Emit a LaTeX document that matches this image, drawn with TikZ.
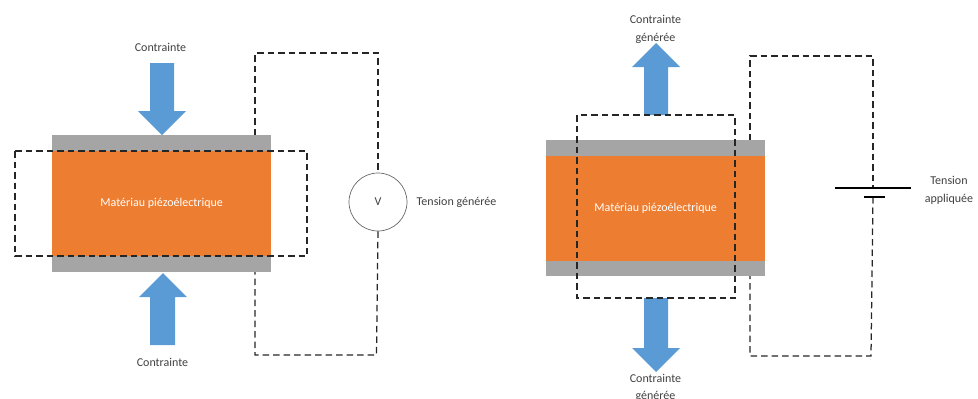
\documentclass[tikz,border=0pt]{standalone}
\usepackage{fontspec}
\setmainfont{Carlito}
\definecolor{plate}{HTML}{A5A5A5}
\definecolor{piezo}{HTML}{ED7D31}
\definecolor{force}{HTML}{5B9BD5}
\definecolor{label}{HTML}{404040}
\tikzset{
  platebox/.style={fill=plate,draw=none,inner sep=0pt,minimum width=219pt,anchor=north west},
  piezobox/.style={fill=piezo,draw=none,inner sep=0pt,minimum width=219pt,minimum height=105pt,anchor=north west,text=white,font=\fontsize{12}{14}\selectfont},
  lab/.style={text=label,inner sep=0pt,align=center,font=\fontsize{12}{17.5}\selectfont},
  wire/.style={draw=black!85,line width=1.25pt,dash pattern=on 6.5pt off 4pt,line join=miter},
  blockarrow/.style={fill=force,draw=none}
}
\begin{document}
\begin{tikzpicture}[x=1pt,y=-1pt]
\useasboundingbox (0,0) rectangle (978,399);
\clip (0,0) rectangle (978,399);
% left device
\node[platebox,minimum height=137pt] (lplate) at (52,135) {};
\node[piezobox] (lpiezo) at (52,151) {Matériau piézoélectrique};
\fill[blockarrow] (150,63) -- (174,63) -- (174,111) -- (186,111) -- (162,135) -- (138,111) -- (150,111) -- cycle;
\fill[blockarrow] (150,345) -- (175,345) -- (175,297) -- (187,297) -- (163,273) -- (139,297) -- (150,297) -- cycle;
\node[lab] (lc1) at (160.5,47) {Contrainte};
\node[lab] (lc2) at (162.5,362.5) {Contrainte};
\node[circle,draw=black!60,line width=0.7pt,fill=white,minimum size=58pt,inner sep=0pt,text=label,font=\fontsize{12}{14}\selectfont] (volt) at (378,202) {V};
\node[lab,anchor=west] (lv) at (416.5,202) {Tension générée};
\coordinate (lt) at (255,135);
\coordinate (lb) at (255,272);
\draw[wire] (lt) -- (255,53) -- (378,53) -- (volt.north);
\draw[wire] (volt.south) -- (376.5,355) -- (255,355) -- (lb);
\draw[wire] (15,151) rectangle (307,256);
% right device
\node[platebox,minimum height=136pt] (rplate) at (546,140) {};
\node[piezobox] (rpiezo) at (546,155.5) {Matériau piézoélectrique};
\fill[blockarrow] (644,115) -- (668,115) -- (668,67) -- (680,67) -- (656,43) -- (632,67) -- (644,67) -- cycle;
\fill[blockarrow] (644,298) -- (668,298) -- (668,348) -- (680,348) -- (656,372) -- (632,348) -- (644,348) -- cycle;
\node[lab] (rc1) at (655.5,29.5) {Contrainte\\générée};
\node[lab] (rc2) at (655.5,388) {Contrainte\\générée};
\node[lab] (rv) at (949,190.5) {Tension\\appliquée};
\draw[wire] (577,115) rectangle (735,298);
\coordinate (rt) at (750,140);
\coordinate (rb) at (750,276);
\coordinate (batp) at (873,188);
\coordinate (batn) at (873,197);
\draw[wire] (rt) -- (750,56) -- (873,56) -- (batp);
\draw[wire] (batn) -- (871,356) -- (750,356) -- (rb);
\draw[black,line width=1.4pt] (835,188) -- (911,188);
\draw[black,line width=1.4pt] (864,197) -- (885,197);
\end{tikzpicture}
\end{document}
